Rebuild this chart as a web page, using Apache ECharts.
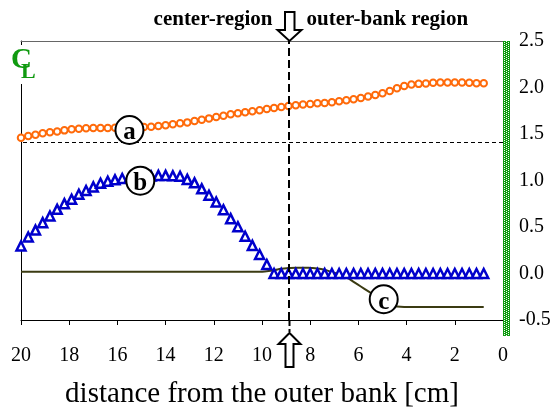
<!DOCTYPE html>
<html>
<head>
<meta charset="utf-8">
<script src="https://cdn.jsdelivr.net/npm/echarts@6/dist/echarts.min.js"></script>
<style>
html,body{margin:0;padding:0;background:#fff;}
#chart{width:554px;height:407px;}
</style>
</head>
<body>
<div id="chart"></div>
<script>
// distance from the outer bank [cm]
var distance = [20,19.7,19.4,19.1,18.8,18.5,18.2,17.9,17.6,17.3,17,16.7,16.4,16.1,15.8,15.5,15.2,14.9,14.6,14.3,14,13.7,13.4,13.1,12.8,12.5,12.2,11.9,11.6,11.3,11,10.7,10.4,10.1,9.8,9.5,9.2,8.9,8.6,8.3,8,7.7,7.4,7.1,6.8,6.5,6.2,5.9,5.6,5.3,5,4.7,4.4,4.1,3.8,3.5,3.2,2.9,2.6,2.3,2,1.7,1.4,1.1,0.8];
// series (a) orange circles
var seriesA = [1.46,1.478,1.492,1.507,1.518,1.528,1.539,1.55,1.557,1.561,1.564,1.564,1.565,1.566,1.567,1.569,1.571,1.574,1.578,1.586,1.593,1.604,1.615,1.625,1.64,1.654,1.668,1.683,1.697,1.712,1.722,1.733,1.744,1.756,1.769,1.78,1.791,1.801,1.809,1.816,1.823,1.83,1.834,1.841,1.852,1.863,1.873,1.888,1.902,1.92,1.938,1.963,1.992,2.017,2.032,2.039,2.042,2.05,2.053,2.053,2.053,2.053,2.05,2.046,2.046];
// series (b) blue triangles
var seriesB = [0.295,0.392,0.467,0.547,0.618,0.69,0.751,0.798,0.852,0.892,0.931,0.971,0.992,1.007,1.021,1.03,1.037,1.042,1.048,1.055,1.055,1.05,1.045,1.012,0.975,0.91,0.841,0.769,0.685,0.59,0.502,0.4,0.302,0.205,0.097,0,0,0,0,0,0,0,0,0,0,0,0,0,0,0,0,0,0,0,0,0,0,0,0,0,0,0,0,0,0];
// series (c) olive line
var seriesC = [0.02,0.02,0.02,0.02,0.02,0.02,0.02,0.02,0.02,0.02,0.02,0.02,0.02,0.02,0.02,0.02,0.02,0.02,0.02,0.02,0.02,0.02,0.02,0.02,0.02,0.02,0.02,0.02,0.02,0.02,0.02,0.02,0.02,0.02,0.025,0.035,0.05,0.058,0.062,0.062,0.06,0.055,0.04,0.015,-0.01,-0.04,-0.09,-0.14,-0.19,-0.24,-0.29,-0.33,-0.355,-0.36,-0.36,-0.36,-0.36,-0.36,-0.36,-0.36,-0.36,-0.36,-0.36,-0.36,-0.36];
// curve labels and their positions [distance, value]
var curveLabels = ['a','b','c'];
var curveLabelPos = [[15.5,1.543],[15.05,0.998],[4.95,-0.277]];
// reference lines
var boundaryDistance = 8.9;
var refLevel = 1.414;
// tick values
var yTicks = [-0.5,0,0.5,1.0,1.5,2.0,2.5];
var xTicks = [0,2,4,6,8,10,12,14,16,18,20];

var FONT = '"Liberation Serif", "Times New Roman", serif';

function zip(xs, ys){ return xs.map(function(x,i){ return [x, ys[i]]; }); }

// checker pattern for the right axis bar
var pc = document.createElement('canvas');
pc.width = 4; pc.height = 4;
var pctx = pc.getContext('2d');
pctx.fillStyle = '#109a10'; pctx.fillRect(0,0,4,4);
pctx.fillStyle = '#f4fff4';
pctx.fillRect(0,0,1,1); pctx.fillRect(2,1,1,1); pctx.fillRect(0,2,1,1); pctx.fillRect(2,3,1,1);

var chart = echarts.init(document.getElementById('chart'), null, {renderer:'canvas'});
var option = {
  animation:false,
  backgroundColor:'#fff',
  grid:{left:21, right:51, top:41, bottom:87, containLabel:false, outerBoundsMode:'none'},
  xAxis:[{
    type:'value', min:xTicks[0], max:xTicks[xTicks.length-1], interval:2, inverse:true, position:'bottom',
    axisLine:{show:true, onZero:false, lineStyle:{color:'#000', width:1}},
    axisTick:{show:true, inside:false, length:5, lineStyle:{color:'#000'}},
    axisLabel:{show:true, margin:26, fontSize:20, color:'#000', fontFamily:FONT, showMinLabel:true, showMaxLabel:true},
    splitLine:{show:false},
    name:'distance from the outer bank [cm]', nameLocation:'middle', nameGap:60,
    nameTextStyle:{fontSize:29, color:'#000', fontFamily:FONT}
  },{
    type:'value', min:xTicks[0], max:xTicks[xTicks.length-1], inverse:true, position:'top',
    axisLine:{show:true, onZero:false, lineStyle:{color:'#666', width:1}},
    axisTick:{show:false}, axisLabel:{show:false}, splitLine:{show:false}
  }],
  yAxis:[{
    type:'value', position:'right', min:yTicks[0], max:yTicks[yTicks.length-1], interval:0.5,
    axisLine:{show:false}, axisTick:{show:false}, splitLine:{show:false},
    axisLabel:{show:true, margin:16, fontSize:20, color:'#000', fontFamily:FONT,
      formatter:function(v){ return v.toFixed(1); }}
  },{
    type:'value', position:'left', min:yTicks[0], max:yTicks[yTicks.length-1], interval:0.5,
    axisLine:{show:true, onZero:false, lineStyle:{color:'#000', width:1}},
    axisTick:{show:false}, axisLabel:{show:false}, splitLine:{show:false}
  }],
  series:[{
    name:'c', type:'line', data:zip(distance, seriesC), showSymbol:false, smooth:0.5,
    lineStyle:{color:'#3b3b12', width:2}, z:3,
    markLine:{
      silent:true, symbol:['none','none'], label:{show:false},
      data:[{yAxis:refLevel}],
      lineStyle:{color:'#000', width:1, type:[4,3], opacity:1}
    }
  },{
    name:'b', type:'scatter', data:zip(distance, seriesB), symbol:'triangle', symbolSize:9,
    itemStyle:{color:'#ffffff', borderColor:'#0000cc', borderWidth:2.5, opacity:1}, z:4
  },{
    name:'a', type:'scatter', data:zip(distance, seriesA), symbol:'circle', symbolSize:6.5,
    itemStyle:{color:'#ffffff', borderColor:'#ff6a0a', borderWidth:2, opacity:1}, z:4
  },{
    name:'boundary', type:'line', data:[[boundaryDistance, 0]], showSymbol:false, z:5,
    lineStyle:{opacity:0},
    markLine:{
      silent:true, symbol:['none','none'], label:{show:false},
      data:[{xAxis:boundaryDistance}],
      lineStyle:{color:'#000', width:2, type:[8,4], opacity:1}
    }
  },{
    name:'labels', type:'scatter', z:10,
    data:curveLabels.map(function(l,i){ return {name:l, value:curveLabelPos[i]}; }),
    symbol:'circle', symbolSize:28,
    itemStyle:{color:'#ffffff', borderColor:'#000', borderWidth:2, opacity:1},
    label:{show:true, position:'inside', formatter:'{b}', color:'#000', fontFamily:FONT,
      fontWeight:'bold', fontSize:25, offset:[0,3]}
  }]
};
chart.setOption(option);

// decorations placed from the axis scale
var bx = Math.round(chart.convertToPixel({xAxisIndex:0}, boundaryDistance)) + 0.5;
var yBottom = chart.convertToPixel({yAxisIndex:0}, yTicks[0]);
var yTop = chart.convertToPixel({yAxisIndex:0}, yTicks[yTicks.length-1]);
var xRight = chart.convertToPixel({xAxisIndex:0}, xTicks[0]);
chart.setOption({
  graphic:[
    {type:'rect', z:100, shape:{x:xRight, y:yTop, width:7, height:yBottom - yTop + 16}, style:{fill:{image:pc, repeat:'repeat'}}},
    {type:'rect', z:100, shape:{x:14, y:45, width:26, height:39}, style:{fill:'#fff'}},
    {type:'text', z:101, x:11, y:46, style:{text:'C', font:'bold 29px "Liberation Serif"', fill:'#109a10'}},
    {type:'text', z:101, x:21, y:61, style:{text:'L', font:'bold 22px "Liberation Serif"', fill:'#109a10'}},
    {type:'text', z:101, x:bx - 17, y:20, style:{text:'center-region', font:'bold 21px "Liberation Serif"', fill:'#000', align:'right', verticalAlign:'middle'}},
    {type:'text', z:101, x:bx + 17, y:20, style:{text:'outer-bank region', font:'bold 21px "Liberation Serif"', fill:'#000', align:'left', verticalAlign:'middle'}},
    {type:'line', z:99, shape:{x1:bx, y1:yBottom, x2:bx, y2:yBottom + 12}, style:{stroke:'#000', lineWidth:2, lineDash:[6,3]}},
    {type:'polygon', z:101, shape:{points:[[bx-4.5,12],[bx+5,12],[bx+5,30],[bx+12,30],[bx,yTop],[bx-12,30],[bx-4.5,30]]}, style:{fill:'#fff', stroke:'#000', lineWidth:2}},
    {type:'polygon', z:101, shape:{points:[[bx,yBottom+13],[bx+11,yBottom+24],[bx+4,yBottom+24],[bx+4,yBottom+47],[bx-4,yBottom+47],[bx-4,yBottom+24],[bx-11,yBottom+24]]}, style:{fill:'#fff', stroke:'#000', lineWidth:2}}
  ]
});
</script>
</body>
</html>
